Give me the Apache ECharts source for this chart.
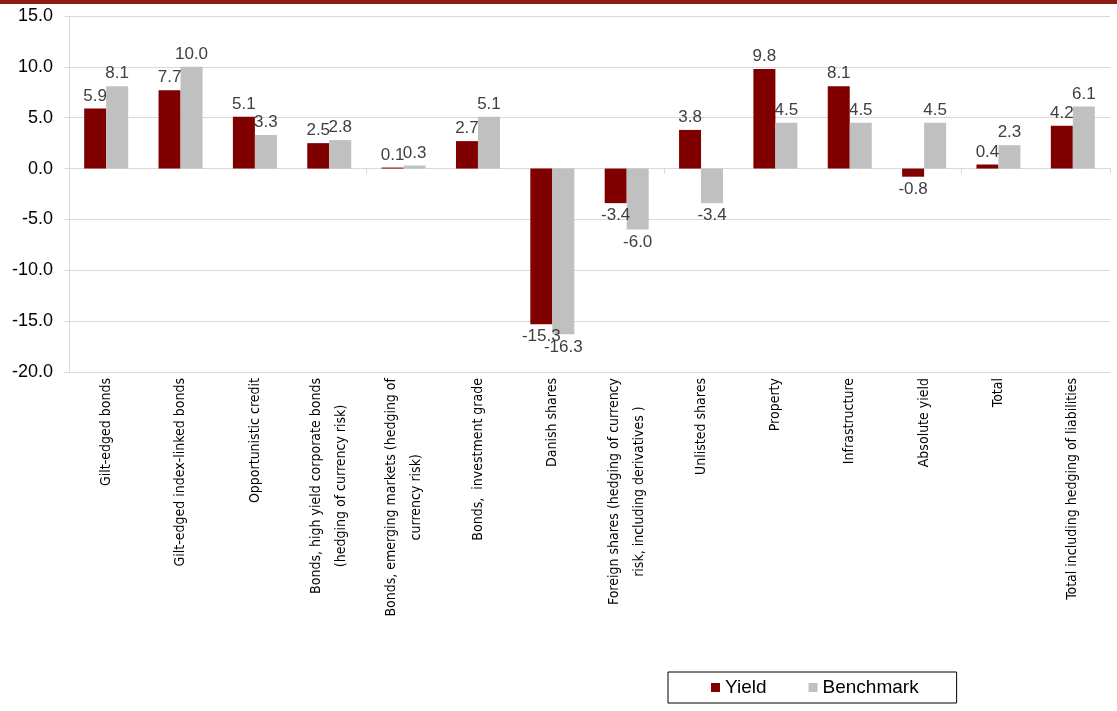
<!DOCTYPE html>
<html>
<head>
<meta charset="utf-8">
<script src="https://cdn.jsdelivr.net/npm/echarts@6/dist/echarts.min.js"></script>
<style>
  html, body { margin: 0; padding: 0; background: #fff; }
  #chart { width: 1117px; height: 711px; }
</style>
</head>
<body>
<div id="chart"></div>
<script>
// Asset classes (line breaks follow the wrapped axis labels)
const categories = [
  'Gilt-edged bonds',
  'Gilt-edged index-linked bonds',
  'Opportunistic credit',
  'Bonds, high yield corporate bonds\n(hedging of currency risk)',
  'Bonds, emerging markets (hedging of\ncurrency risk)',
  'Bonds,  investment grade',
  'Danish shares',
  'Foreign shares (hedging of currency\nrisk, including derivatives )',
  'Unlisted shares',
  'Property',
  'Infrastructure',
  'Absolute yield',
  'Total',
  'Total including hedging of liabilities'
];

// Returns in per cent
const yieldValues = [5.9, 7.7, 5.1, 2.5, 0.1, 2.7, -15.3, -3.4, 3.8, 9.8, 8.1, -0.8, 0.4, 4.2];
const benchmarkValues = [8.1, 10.0, 3.3, 2.8, 0.3, 5.1, -16.3, -6.0, -3.4, 4.5, 4.5, 4.5, 2.3, 6.1];

// Value axis range
const yMin = -20;
const yMax = 15;
const yStep = 5;

const LABEL_FONT = 'Liberation Sans, Arial, sans-serif';
const CAT_FONT = 'DejaVu Sans Condensed, DejaVu Sans, Verdana, sans-serif';

function withLabels(values) {
  return values.map(v => ({
    value: v,
    label: { position: v < 0 ? 'bottom' : 'top' }
  }));
}

const barLabel = {
  show: true,
  fontFamily: LABEL_FONT,
  fontSize: 17,
  color: '#404040',
  distance: 4,
  formatter: p => p.value.toFixed(1)
};

const chart = echarts.init(document.getElementById('chart'), null, { renderer: 'canvas' });

chart.setOption({
  backgroundColor: '#ffffff',
  animation: false,
  graphic: [{
    type: 'rect',
    left: 0,
    top: 0,
    shape: { width: 1117, height: 4 },
    style: { fill: '#8c1c13' },
    silent: true
  }],
  grid: { left: 69, right: 7, top: 16, bottom: 339 },
  legend: {
    data: ['Yield', 'Benchmark'],
    left: 668,
    top: 672,
    icon: 'rect',
    itemWidth: 9,
    itemHeight: 9,
    itemGap: 42,
    padding: [6, 38, 6, 43],
    borderColor: '#000',
    borderWidth: 1,
    backgroundColor: '#fff',
    textStyle: { fontFamily: LABEL_FONT, fontSize: 19, color: '#000' }
  },
  xAxis: [{
    type: 'category',
    data: categories,
    position: 'bottom',
    axisLine: { show: false, onZero: false },
    axisTick: { show: false },
    axisLabel: {
      interval: 0,
      rotate: 90,
      margin: 6,
      color: '#000',
      formatter: v => v.split('\n').map(l => '{c|' + l + '}').join('\n'),
      rich: {
        c: { align: 'center', fontFamily: CAT_FONT, fontSize: 14, lineHeight: 25, color: '#000' }
      }
    }
  }, {
    type: 'category',
    data: categories,
    position: 'top',
    axisLine: { show: true, onZero: true, lineStyle: { color: '#d9d9d9', width: 1 } },
    axisTick: { show: true, inside: true, length: 5, lineStyle: { color: '#d9d9d9' } },
    axisLabel: { show: false }
  }],
  yAxis: {
    type: 'value',
    min: yMin,
    max: yMax,
    interval: yStep,
    axisLine: { show: true, lineStyle: { color: '#d9d9d9' } },
    axisTick: { show: true, length: 5, lineStyle: { color: '#d9d9d9' } },
    splitLine: { show: true, lineStyle: { color: '#d9d9d9', width: 1 } },
    axisLabel: {
      margin: 16,
      fontFamily: LABEL_FONT,
      fontSize: 18,
      color: '#000',
      formatter: v => v.toFixed(1)
    }
  },
  series: [{
    name: 'Yield',
    type: 'bar',
    xAxisIndex: 0,
    barWidth: 22,
    barGap: '0%',
    itemStyle: { color: '#800000' },
    label: barLabel,
    data: withLabels(yieldValues)
  }, {
    name: 'Benchmark',
    type: 'bar',
    xAxisIndex: 0,
    barWidth: 22,
    barGap: '0%',
    itemStyle: { color: '#c0c0c0' },
    label: barLabel,
    data: withLabels(benchmarkValues)
  }]
});
</script>
</body>
</html>
